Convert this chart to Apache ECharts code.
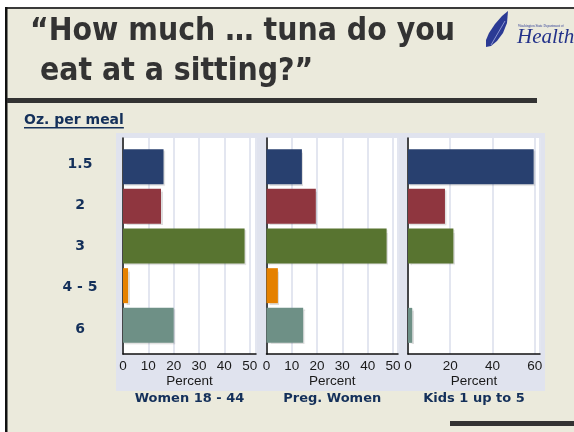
<!DOCTYPE html>
<html>
<head>
<meta charset="utf-8">
<script src="https://cdn.jsdelivr.net/npm/echarts@6/dist/echarts.min.js"></script>
<style>
  html, body { margin: 0; padding: 0; background: #ffffff; }
  #chart { width: 574px; height: 432px; }
</style>
</head>
<body>
<div id="chart"></div>
<script>
// Survey: ounces of tuna eaten per meal, percent of respondents by group
const categories = ['1.5', '2', '3', '4 - 5', '6'];
const women = [16, 15, 48, 2, 20];
const pregnant = [14, 19.5, 47.5, 4.5, 14.5];
const kids = [59.5, 17.5, 21.5, 0, 2];
const groupNames = ['Women 18 - 44', 'Preg. Women', 'Kids 1 up to 5'];
const titleLines = ['\u201CHow much \u2026 tuna do you', 'eat at a sitting?\u201D'];
const yTitle = 'Oz. per meal';
const xName = 'Percent';

const groupValues = [women, pregnant, kids];
const barColors = ['#28406F', '#8F363F', '#587430', '#E58100', '#6E9086'];

// panel geometry
const plotLeft = [123, 266.5, 408];
const plotWidth = [133, 131.5, 132];
const plotTop = 138, plotHeight = 216;
const axisMax = [52.5, 52, 62.5];
const axisStep = [10, 10, 20];

const navy = '#14305A';
const boldFace = '"DejaVu Sans", sans-serif';

function measure(text, font) {
  const c = document.createElement('canvas').getContext('2d');
  c.font = font;
  return c.measureText(text).width;
}

const titleFont = 'bold 32px "DejaVu Sans Condensed"';
const titleScale = 425 / measure(titleLines[0], titleFont);
const smallBold = 'bold 13px "DejaVu Sans"';
const yTitleFont = 'bold 14px "DejaVu Sans"';

const grid = [], xAxis = [], yAxis = [], series = [];
for (let i = 0; i < 3; i++) {
  // frame grid: white plot area, split lines, value axis
  grid.push({ left: plotLeft[i], width: plotWidth[i], top: plotTop, height: plotHeight,
    show: true, backgroundColor: '#ffffff', borderWidth: 0 });
  xAxis.push({
    type: 'value', gridIndex: grid.length - 1, min: 0, max: axisMax[i], interval: axisStep[i],
    axisLine: { show: true, lineStyle: { color: '#111111', width: 1.5 } },
    axisTick: { show: false },
    axisLabel: { color: '#1a1a1a', fontSize: 13.5, fontFamily: '"Liberation Sans", Arial', margin: 5,
      showMaxLabel: false, hideOverlap: false,
      formatter: v => (v % axisStep[i] === 0 ? String(v) : '') },
    splitLine: { show: true, lineStyle: { color: '#E3E6F0', width: 2 } },
    name: xName, nameLocation: 'middle', nameGap: 16,
    nameTextStyle: { color: '#1a1a1a', fontSize: 13.5, fontFamily: '"Liberation Sans", Arial' }
  });
  yAxis.push({
    type: 'value', gridIndex: grid.length - 1, min: 0, max: 1,
    axisLine: { show: true, lineStyle: { color: '#111111', width: 1.5 } },
    axisTick: { show: false }, axisLabel: { show: false }, splitLine: { show: false }
  });
}
for (let i = 0; i < 3; i++) {
  // bar grid
  grid.push({ left: plotLeft[i], width: plotWidth[i], top: 146.8, height: 198.4 });
  xAxis.push({ type: 'value', gridIndex: grid.length - 1, min: 0, max: axisMax[i], show: false });
  yAxis.push({ type: 'category', gridIndex: grid.length - 1, data: categories, inverse: true, show: false });
  series.push({
    type: 'bar', xAxisIndex: grid.length - 1, yAxisIndex: grid.length - 1,
    barWidth: 35,
    data: groupValues[i].map((v, k) => ({ value: v, itemStyle: { color: barColors[k] } })),
    itemStyle: { shadowColor: 'rgba(0,0,0,0.13)', shadowOffsetX: 1.5, shadowOffsetY: 1.5, shadowBlur: 1 },
    silent: true
  });
}
// category labels
grid.push({ left: plotLeft[0], width: plotWidth[0], top: 143.4, height: 206.3 });
xAxis.push({ type: 'value', gridIndex: grid.length - 1, show: false });
yAxis.push({
  type: 'category', gridIndex: grid.length - 1, data: categories, inverse: true,
  axisLine: { show: false }, axisTick: { show: false }, splitLine: { show: false },
  axisLabel: { align: 'center', margin: 43, color: navy, fontSize: 14, fontWeight: 'bold', fontFamily: boldFace }
});

const graphic = [
  // slide background and rules
  { type: 'rect', z: -20, shape: { x: 5, y: 7, width: 569, height: 425 }, style: { fill: '#EBEADC' }, silent: true },
  { type: 'rect', z: -19, shape: { x: 5, y: 7, width: 569, height: 2 }, style: { fill: '#3a3a3a' }, silent: true },
  { type: 'rect', z: -19, shape: { x: 5, y: 7, width: 2.5, height: 425 }, style: { fill: '#111111' }, silent: true },
  { type: 'rect', z: -19, shape: { x: 7, y: 98, width: 530, height: 5 }, style: { fill: '#333333' }, silent: true },
  { type: 'rect', z: -19, shape: { x: 450, y: 421, width: 124, height: 5 }, style: { fill: '#333333' }, silent: true },
  // chart panel frame
  { type: 'rect', z: -18, shape: { x: 116, y: 133, width: 429, height: 258 }, style: { fill: '#E0E3EE' }, silent: true },
  // headline
  { type: 'text', z: 10, x: 30, y: 16, scaleX: titleScale,
    style: { text: titleLines[0], font: titleFont, fill: '#333333', verticalAlign: 'top' } },
  { type: 'text', z: 10, x: 40, y: 56, scaleX: titleScale,
    style: { text: titleLines[1], font: titleFont, fill: '#333333', verticalAlign: 'top' } },
  // y title
  { type: 'text', z: 10, x: 24, y: 120,
    style: { text: yTitle, font: yTitleFont, fill: navy, verticalAlign: 'middle' } },
  // logo: quill and wordmark
  { type: 'polygon', z: 10, shape: { points: [[508, 11], [502, 16], [495, 24], [489, 33], [486, 40], [486, 47], [491, 46], [497, 41], [503, 33], [507, 23]] },
    style: { fill: '#2B3A94' } },
  { type: 'line', z: 11, shape: { x1: 491, y1: 45, x2: 505, y2: 21 }, style: { stroke: '#8C96D0', lineWidth: 1 } },
  { type: 'text', z: 10, x: 518, y: 24, style: { text: 'Washington State Department of', font: '3.5px "Liberation Serif"', fill: '#2B3A94' } },
  { type: 'text', z: 10, x: 517, y: 27,
    style: { text: 'Health', font: 'italic 21px "Liberation Serif"', fill: '#23328A', verticalAlign: 'top' } }
];
const underlineW = measure(yTitle, yTitleFont);
graphic.push({ type: 'rect', z: 10, shape: { x: 24, y: 127, width: underlineW, height: 1.5 }, style: { fill: navy } });
for (let i = 0; i < 3; i++) {
  graphic.push({ type: 'text', z: 10, x: plotLeft[i] + plotWidth[i] / 2, y: 399,
    style: { text: groupNames[i], font: smallBold, fill: navy, align: 'center', verticalAlign: 'middle' } });
}

const chart = echarts.init(document.getElementById('chart'), null, { renderer: 'canvas' });
chart.setOption({
  backgroundColor: '#ffffff',
  animation: false,
  grid, xAxis, yAxis, series, graphic
});
</script>
</body>
</html>
